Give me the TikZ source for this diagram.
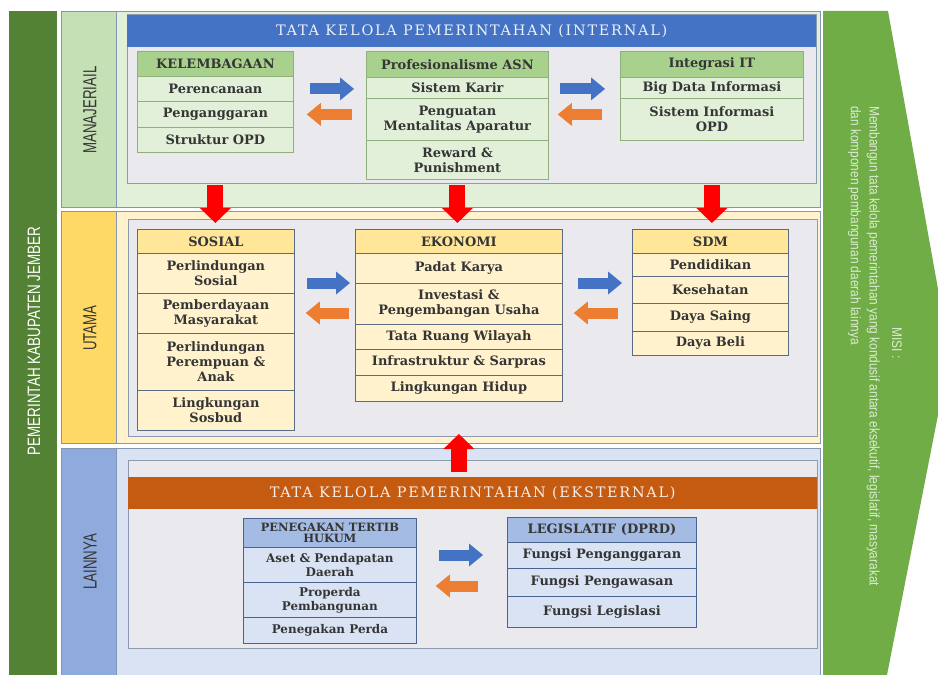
\documentclass[tikz,border=0pt]{standalone}
\usepackage{fontspec}
\setmainfont{DejaVu Serif}
\newfontfamily\labfont[FakeStretch=0.7]{Liberation Sans}
\newfontfamily\bigfont[FakeStretch=0.75]{Liberation Sans}
\newfontfamily\misifont[FakeStretch=0.85]{Liberation Sans}
\newfontfamily\titfont[LetterSpace=12]{DejaVu Serif}
\usetikzlibrary{arrows.meta}
\definecolor{barG}{HTML}{548235}
\definecolor{banG}{HTML}{70AD47}
\definecolor{banT}{HTML}{DDEBD3}
\definecolor{rowLine}{HTML}{8497B0}
\definecolor{mgL}{HTML}{C5E0B4}
\definecolor{mgC}{HTML}{E2F0D9}
\definecolor{utL}{HTML}{FFD966}
\definecolor{utC}{HTML}{FFF2CC}
\definecolor{laL}{HTML}{8FAADC}
\definecolor{laC}{HTML}{DAE3F3}
\definecolor{panF}{HTML}{E9E9EE}
\definecolor{panD}{HTML}{8C9BB0}
\definecolor{hdB}{HTML}{4472C4}
\definecolor{hdO}{HTML}{C55A11}
\definecolor{gH}{HTML}{A9D18E}
\definecolor{gC}{HTML}{E2F0D9}
\definecolor{gD}{HTML}{8FB07A}
\definecolor{yH}{HTML}{FFE699}
\definecolor{yC}{HTML}{FFF2CC}
\definecolor{yD}{HTML}{5B6B85}
\definecolor{bH}{HTML}{A4BBE3}
\definecolor{bC}{HTML}{DAE3F3}
\definecolor{bD}{HTML}{4A6390}
\definecolor{txt}{HTML}{353535}
\definecolor{arB}{HTML}{4472C4}
\definecolor{arO}{HTML}{ED7D31}
\definecolor{arR}{HTML}{FF0000}
\newcommand\cellfont{\bfseries\fontsize{13}{15}\selectfont}
\newcommand\smallcellfont{\bfseries\fontsize{12}{14}\selectfont}
\newcommand\mycell[7]{\node[#2, minimum width=#5bp, minimum height=#6bp] (#1) at (#3,#4) {#7};}
\begin{document}
\begin{tikzpicture}[x=1bp,y=-1bp,
  cell/.style={draw, line width=0.8bp, anchor=north west, inner sep=1bp, align=center, text=txt, font=\cellfont},
  hg/.style={cell, draw=gD, fill=gH},
  cg/.style={cell, draw=gD, fill=gC},
  hy/.style={cell, draw=yD, fill=yH},
  cy/.style={cell, draw=yD, fill=yC},
  hb/.style={cell, draw=bD, fill=bH},
  cb/.style={cell, draw=bD, fill=bC},
  cbs/.style={cb, font=\smallcellfont},
  rowbox/.style={draw=rowLine, line width=0.8bp},
  panel/.style={draw=panD, fill=panF, line width=1bp},
  title/.style={anchor=north west, inner sep=0pt, minimum width=689bp, minimum height=32bp, font=\titfont\fontsize{14.5}{16}\selectfont},
  rowlab/.style={rotate=90, text=txt, font=\labfont\fontsize{19}{19}\selectfont},
  barB/.style={draw=arB, line width=11bp, -{Triangle[length=14bp,width=23bp,line width=0pt]}},
  barO/.style={draw=arO, line width=11bp, -{Triangle[length=14bp,width=23bp,line width=0pt]}},
  barR/.style={draw=arR, line width=16bp, -{Triangle[length=15bp,width=31bp,line width=0pt]}}
]
\useasboundingbox (0,0) rectangle (938,675);
\fill[white] (0,0) rectangle (938,675);
% left bar
\fill[barG] (9,11) rectangle (57,675);
\node[rotate=90, text=white, font=\bigfont\fontsize{18}{18}\selectfont] (pemkab) at (34,341) {PEMERINTAH KABUPATEN JEMBER};
% right banner
\fill[banG] (823,11) -- (888,11) -- (938,289) -- (938,415) -- (887,675) -- (823,675) -- cycle;
\node[rotate=-90, text=banT, font=\misifont\fontsize{14}{14}\selectfont] (misi) at (897,343) {MISI :};
\node[rotate=-90, anchor=north west, align=left, inner sep=0pt, text=banT, font=\misifont\fontsize{14}{19}\selectfont] (misitext) at (880,106) {Membangun tata kelola pemerintahan yang kondusif antara eksekutif, legislatif, masyarakat\\dan komponen pembangunan daerah lainnya};
% rows
\draw[rowbox, fill=mgC] (116,11) rectangle (820,207);
\draw[rowbox, fill=mgL] (61,11) rectangle (116,207);
\draw[rowbox, fill=utC] (116,211) rectangle (820,443);
\draw[rowbox, fill=utL] (61,211) rectangle (116,443);
\draw[rowbox, fill=laC] (116,448) rectangle (820,675);
\draw[rowbox, fill=laL] (61,448) rectangle (116,675);
\node[rowlab] (lman) at (90,110) {MANAJERIAIL};
\node[rowlab] (luta) at (90,328) {UTAMA};
\node[rowlab] (llai) at (90,562) {LAINNYA};
% panels
\draw[panel] (127,15) rectangle (816,183);
\node[title, fill=hdB, text=white!90!hdB] (tint) at (127,15) {TATA KELOLA PEMERINTAHAN (INTERNAL)};
\draw[panel] (128,219) rectangle (817,436);
\draw[panel] (128,460) rectangle (817,648);
\node[title, fill=hdO, text=white!90!hdO] (text) at (128,477) {TATA KELOLA PEMERINTAHAN (EKSTERNAL)};
% manajerial tables
\mycell{kh}{hg}{137}{51}{156}{25}{KELEMBAGAAN}
\mycell{k1}{cg}{137}{76}{156}{25}{Perencanaan}
\mycell{k2}{cg}{137}{101}{156}{26}{Penganggaran}
\mycell{k3}{cg}{137}{127}{156}{25}{Struktur OPD}
\mycell{ph}{hg}{366}{51}{182}{26}{Profesionalisme ASN}
\mycell{p1}{cg}{366}{77}{182}{21}{Sistem Karir}
\mycell{p2}{cg}{366}{98}{182}{42}{Penguatan\\Mentalitas Aparatur}
\mycell{p3}{cg}{366}{140}{182}{39}{Reward \&\\Punishment}
\mycell{ih}{hg}{620}{51}{183}{26}{Integrasi IT}
\mycell{i1}{cg}{620}{77}{183}{21}{Big Data Informasi}
\mycell{i2}{cg}{620}{98}{183}{42}{Sistem Informasi\\OPD}
% utama tables
\mycell{sh}{hy}{137}{229}{157}{24}{SOSIAL}
\mycell{s1}{cy}{137}{253}{157}{40}{Perlindungan\\Sosial}
\mycell{s2}{cy}{137}{293}{157}{40}{Pemberdayaan\\Masyarakat}
\mycell{s3}{cy}{137}{333}{157}{57}{Perlindungan\\Perempuan \&\\Anak}
\mycell{s4}{cy}{137}{390}{157}{40}{Lingkungan\\Sosbud}
\mycell{eh}{hy}{355}{229}{207}{24}{EKONOMI}
\mycell{e1}{cy}{355}{253}{207}{30}{Padat Karya}
\mycell{e2}{cy}{355}{283}{207}{41}{Investasi \&\\Pengembangan Usaha}
\mycell{e3}{cy}{355}{324}{207}{25}{Tata Ruang Wilayah}
\mycell{e4}{cy}{355}{349}{207}{26}{Infrastruktur \& Sarpras}
\mycell{e5}{cy}{355}{375}{207}{26}{Lingkungan Hidup}
\mycell{dh}{hy}{632}{229}{156}{24}{SDM}
\mycell{d1}{cy}{632}{253}{156}{23}{Pendidikan}
\mycell{d2}{cy}{632}{276}{156}{27}{Kesehatan}
\mycell{d3}{cy}{632}{303}{156}{28}{Daya Saing}
\mycell{d4}{cy}{632}{331}{156}{24}{Daya Beli}
% lainnya tables
\node[hb, minimum width=173bp, minimum height=29bp, font=\bfseries\fontsize{11.5}{11.5}\selectfont] (hh) at (243,518) {PENEGAKAN TERTIB\\HUKUM};
\mycell{h1}{cbs}{243}{547}{173}{35}{Aset \& Pendapatan\\Daerah}
\mycell{h2}{cbs}{243}{582}{173}{35}{Properda\\Pembangunan}
\mycell{h3}{cbs}{243}{617}{173}{26}{Penegakan Perda}
\mycell{lh}{hb}{507}{517}{189}{25}{LEGISLATIF (DPRD)}
\mycell{l1}{cb}{507}{542}{189}{26}{Fungsi Penganggaran}
\mycell{l2}{cb}{507}{568}{189}{28}{Fungsi Pengawasan}
\mycell{l3}{cb}{507}{596}{189}{31}{Fungsi Legislasi}
% horizontal arrows
\draw[barB] ([xshift=16bp]k1.east) -- ([xshift=-12bp]k1.east -| p1.west);
\draw[barO] ([xshift=-14bp]p2.west |- k2.east) -- ([xshift=13bp]k2.east);
\draw[barB] ([xshift=11bp]p1.east |- k1.east) -- ([xshift=-15bp]i1.west |- k1.east);
\draw[barO] ([xshift=-18bp]i1.west |- k2.east) -- ([xshift=9bp]p2.east |- k2.east);
\draw[barB] ([xshift=12bp]s1.east |- 0,283) -- ([xshift=-5bp]e1.west |- 0,283);
\draw[barO] ([xshift=-6bp]e1.west |- 0,313) -- ([xshift=11bp]s1.east |- 0,313);
\draw[barB] ([xshift=15bp]e1.east |- 0,283) -- ([xshift=-10bp]d1.west |- 0,283);
\draw[barO] ([xshift=-14bp]d1.west |- 0,313) -- ([xshift=11bp]e1.east |- 0,313);
\draw[barB] ([xshift=22bp]h1.east |- 0,555) -- ([xshift=-24bp]l1.west |- 0,555);
\draw[barO] ([xshift=-29bp]l1.west |- 0,586) -- ([xshift=19bp]h1.east |- 0,586);
% red arrows
\draw[barR] (k3.south |- 0,185) -- (k3.south |- 0,223);
\draw[barR] (p3.south |- 0,185) -- (p3.south |- 0,223);
\draw[barR] (i2.south |- 0,185) -- (i2.south |- 0,223);
\draw[barR] (e5.south |- 0,472) -- (e5.south |- 0,434);
\end{tikzpicture}
\end{document}
